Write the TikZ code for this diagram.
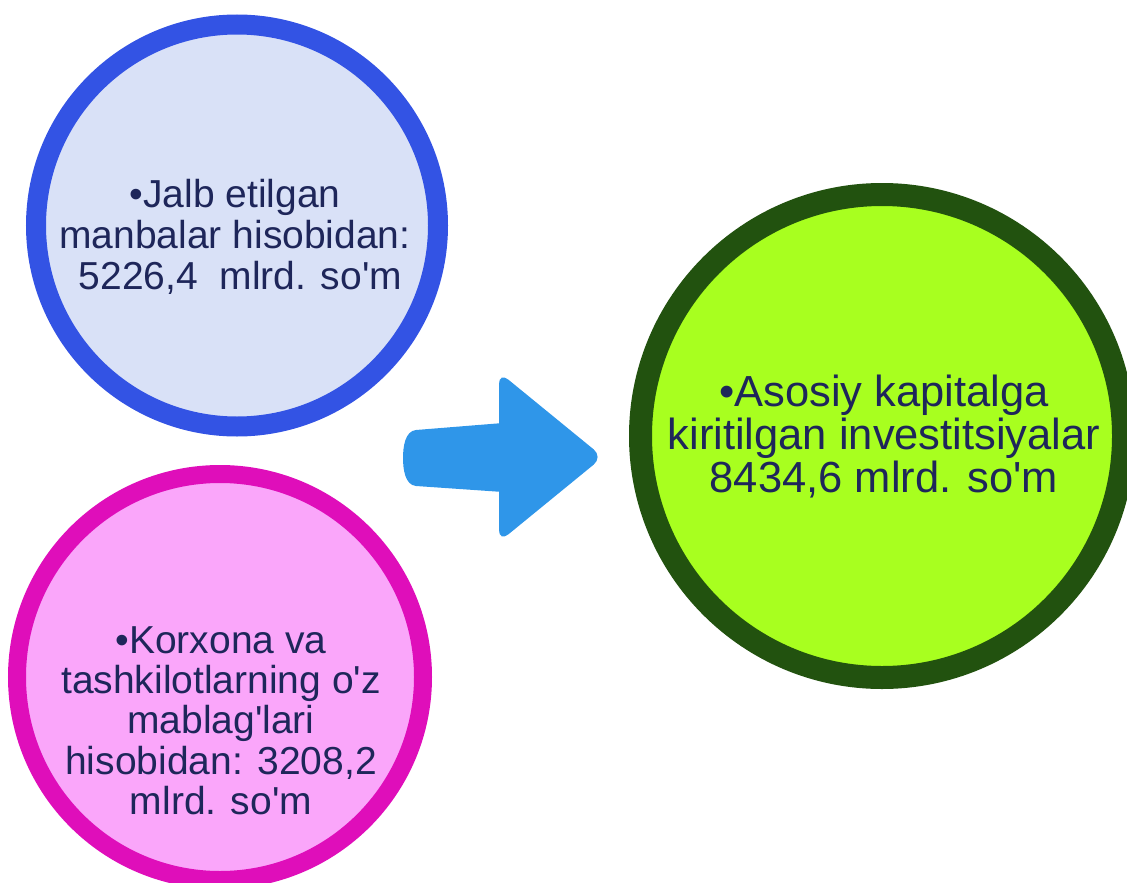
\documentclass[tikz,border=0pt]{standalone}
\usepackage{fontspec}
\newfontfamily\arialfont{Liberation Sans}
\definecolor{bluering}{RGB}{51,83,228}
\definecolor{bluefill}{RGB}{217,225,247}
\definecolor{pinkring}{RGB}{223,14,186}
\definecolor{pinkfill}{RGB}{250,166,250}
\definecolor{greenring}{RGB}{34,82,15}
\definecolor{greenfill}{RGB}{168,255,31}
\definecolor{arrowblue}{RGB}{47,150,233}
\definecolor{navytext}{RGB}{30,38,90}
\begin{document}
\begin{tikzpicture}[x=1pt,y=-1pt,
  ring/.style={circle,draw,inner sep=0pt,outer sep=0pt},
  cirtext/.style={align=center,text=navytext,inner sep=0pt},
  smalltext/.style={cirtext,font=\arialfont\fontsize{39}{41}\selectfont},
  bigtext/.style={cirtext,font=\arialfont\fontsize{43.5}{43}\selectfont}]
\useasboundingbox (0,0) rectangle (1127,883);
% circles
\node[ring,draw=bluering,fill=bluefill,line width=20pt,minimum size=402pt] (src1) at (237,225.5) {};
\node[ring,draw=pinkring,fill=pinkfill,line width=18pt,minimum size=406pt] (src2) at (220,677) {};
\node[ring,draw=greenring,fill=greenfill,line width=23pt,minimum size=483pt] (total) at (882,436) {};
% texts
\node[smalltext] (t1) at (235,237) {•Jalb etilgan\\manbalar hisobidan:\\\ 5226,4\ \ mlrd. so'm};
\node[smalltext,font=\arialfont\fontsize{39}{40.3}\selectfont] (t2) at (221,720.5) {•Korxona va\\tashkilotlarning o'z\\mablag'lari\\hisobidan: 3208,2\\mlrd. so'm};
\node[bigtext] (t3) at (884,437) {•Asosiy kapitalga\\kiritilgan investitsiyalar\\8434,6 mlrd. so'm};
% block arrow
\fill[arrowblue] (503,423) -- (416,430) .. controls (405,431) and (403,447) .. (403,458)
  .. controls (403,469) and (405,485) .. (416,486) -- (503,492) -- cycle;
\fill[arrowblue,rounded corners=12pt] (499,372) -- (603,457) -- (499,542) -- cycle;
\end{tikzpicture}
\end{document}
